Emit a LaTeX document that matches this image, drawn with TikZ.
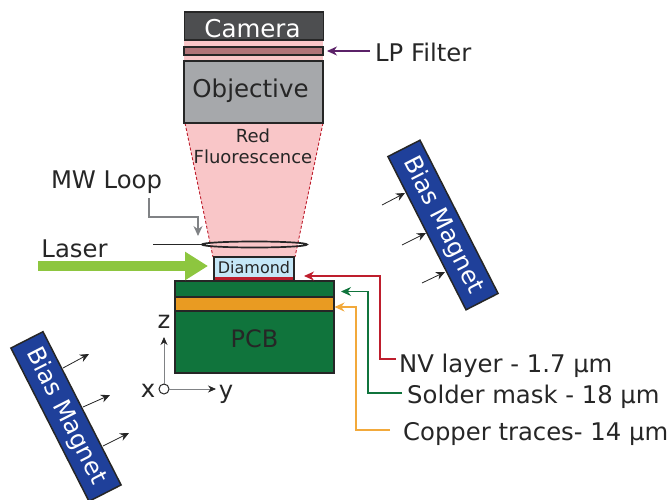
\documentclass[tikz,border=0pt]{standalone}
\usepackage{fontspec}
\setmainfont{DejaVu Sans}
\usepackage{tikz}
\usetikzlibrary{arrows.meta}
\usetikzlibrary{shapes.geometric}
\definecolor{camgrey}{HTML}{4D4E50}
\definecolor{objgrey}{HTML}{A6A8AB}
\definecolor{redlight}{HTML}{F9C6C8}
\definecolor{filterred}{HTML}{B07478}
\definecolor{diamondblue}{HTML}{C5E7F7}
\definecolor{nvred}{HTML}{BE1E2D}
\definecolor{pcbgreen}{HTML}{10743C}
\definecolor{copperor}{HTML}{E99B22}
\definecolor{copperline}{HTML}{F2A93B}
\definecolor{laserlime}{HTML}{8DC63F}
\definecolor{magblue}{HTML}{1F409A}
\definecolor{filterpurple}{HTML}{5B2168}
\definecolor{wiregrey}{HTML}{808285}
\tikzset{
  part/.style={draw=black!85,line width=1.5pt,inner sep=0pt,outer sep=0pt},
  label/.style={inner sep=0pt,text=black!85,font=\fontsize{24.3}{26}\selectfont},
  magnet/.style={part,fill=magblue,text=white,minimum width=172pt,minimum height=36pt,font=\fontsize{24.3}{26}\selectfont},
  field/.style={black!85,line width=0.8pt,-{Stealth[length=9pt,width=8pt]}},
  pointer/.style={line width=1.1pt,-{Stealth[length=10pt,width=9pt]}}
}
\begin{document}
\begin{tikzpicture}[x=1pt,y=-1pt]
\useasboundingbox (0,0) rectangle (670,499);

% light path
\fill[redlight] (184,40) rectangle (323,61);
\fill[redlight] (185,123) -- (323,123) -- (295,257) -- (213,257) -- cycle;
\draw[nvred,densely dashed,line width=0.9pt] (185,123) -- (213,257);
\draw[nvred,densely dashed,line width=0.9pt] (323,123) -- (295,257);

\node[part,fill=camgrey,text=white,minimum width=139pt,minimum height=28pt,font=\fontsize{24.5}{26}\selectfont,text height=22pt,text depth=0pt] (camera) at (254,26) {Camera\hspace*{3pt}};
\node[part,fill=filterred,minimum width=139pt,minimum height=8pt] (filter) at (253.5,51) {};
\node[part,fill=objgrey,text=black!85,minimum width=139pt,minimum height=62pt,font=\fontsize{24.5}{26}\selectfont,text depth=8pt] (objective) at (253.5,92) {Objective\hspace*{6pt}};
\node[text=black!85,align=center,inner sep=0pt,font=\fontsize{18}{21}\selectfont] (fluor) at (253,146) {Red\\Fluorescence};

% loop
\node[draw=black!85,line width=1.7pt,ellipse,minimum width=105pt,minimum height=6pt,inner sep=0pt,outer sep=0pt] (loop) at (254.5,244.5) {};
\coordinate (wirestart) at (153,244.5);
\draw[black!85,line width=1.7pt] (wirestart) -- (loop.west);

% sample
\node[part,fill=diamondblue,text=black!85,minimum width=80pt,minimum height=23pt,font=\fontsize{16}{18}\selectfont,text depth=2pt] (diamond) at (254,268.5) {Diamond};
\fill[nvred] (215,276.5) rectangle (293,280);
\node[part,fill=pcbgreen,minimum width=159pt,minimum height=16pt] (mask) at (254.5,289) {};
\node[part,fill=copperor,minimum width=159pt,minimum height=14pt] (copper) at (254.5,304) {};
\node[part,fill=pcbgreen,text=black!85,minimum width=159pt,minimum height=62pt,font=\fontsize{24}{26}\selectfont,text depth=6pt] (pcb) at (254.5,342) {PCB};

% laser
\node[label] (laser) at (74.5,249) {Laser};
\coordinate (laserstart) at (38,266);
\coordinate (laserend) at (208,266);
\draw[laserlime,line width=10pt,-{Triangle[length=23pt,width=27pt]}] (laserstart) -- (laserend);

% labels
\node[label,anchor=west] (lplabel) at (375,52) {LP Filter};
\node[label] (mwlabel) at (106.5,182) {MW Loop};
\node[label,anchor=west] (nvlabel) at (399,366) {NV layer - 1.7 µm};
\node[label,anchor=west] (masklabel) at (407,397) {Solder mask - 18 µm};
\node[label,anchor=west] (copperlabel) at (403,434) {Copper traces- 14 µm};

\coordinate (lpstart) at (370,51);
\coordinate (lptip) at (327,51);
\coordinate (mwstart) at (149,198);
\coordinate (mwbend) at (149,217);
\coordinate (mwtip) at (198,236);
\coordinate (nvstart) at (396,359);
\coordinate (nvcorner) at (380,359);
\coordinate (nvtip) at (304,276);
\coordinate (maskstart) at (402,393);
\coordinate (maskcorner) at (368,393);
\coordinate (masktip) at (341,291.5);
\coordinate (copperstart) at (390,430);
\coordinate (coppercorner) at (356,430);
\coordinate (coppertip) at (334.5,307);

\draw[pointer,filterpurple] (lpstart) -- (lptip);
\draw[pointer,wiregrey] (mwstart) -- (mwbend) -| (mwtip);
\draw[pointer,nvred] (nvstart) -- (nvcorner) |- (nvtip);
\draw[pointer,pcbgreen] (maskstart) -- (maskcorner) |- (masktip);
\draw[pointer,copperline] (copperstart) -- (coppercorner) |- (coppertip);

% axes
\node[draw=black!85,circle,line width=1pt,minimum size=10pt,inner sep=0pt,outer sep=0pt] (origin) at (164,389) {};
\coordinate (ztip) at (164,337);
\coordinate (ytip) at (216,389);
\draw[wiregrey,line width=0.8pt,-{Stealth[length=8pt,width=7pt,color=black!85]}] (origin) -- (ztip);
\draw[wiregrey,line width=0.8pt,-{Stealth[length=8pt,width=7pt,color=black!85]}] (origin) -- (ytip);
\node[label] (zlabel) at (164,322) {z};
\node[label] (xlabel) at (148,391) {x};
\node[label] (ylabel) at (226,394) {y};

% magnets
\node[magnet,rotate=-63] (magnetleft) at (66,416.5) {Bias Magnet};
\node[magnet,rotate=-63] (magnetright) at (443,225) {Bias Magnet};

\coordinate (lfa) at (63,368);
\coordinate (lfb) at (83,407);
\coordinate (lfc) at (103,446);
\draw[field] (lfa) -- (89,354);
\draw[field] (lfb) -- (110,395);
\draw[field] (lfc) -- (129,433);

\coordinate (rfa) at (405,193);
\coordinate (rfb) at (426,233);
\coordinate (rfc) at (445,272);
\draw[field] (382,205) -- (rfa);
\draw[field] (402,245) -- (rfb);
\draw[field] (422,283) -- (rfc);

\end{tikzpicture}
\end{document}
